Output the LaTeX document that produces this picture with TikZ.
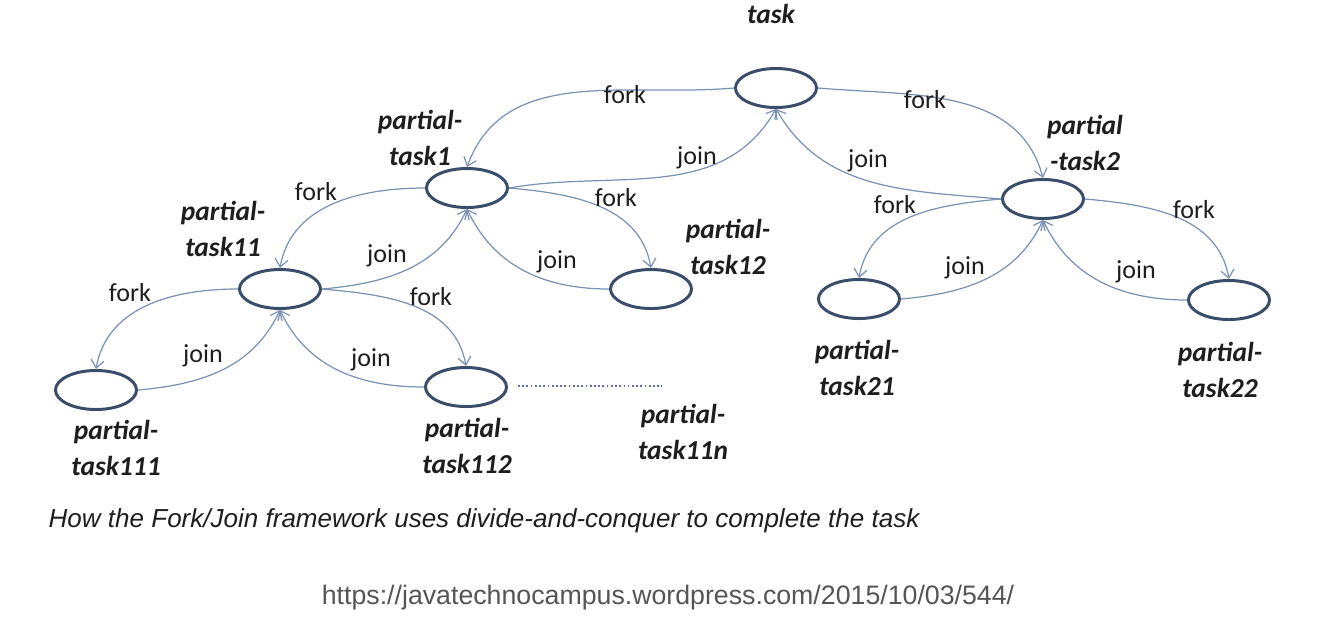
\documentclass[tikz,border=0pt]{standalone}
\usepackage{fontspec}
\setmainfont{Carlito}
\newfontfamily\capfont{Liberation Sans}
\usetikzlibrary{arrows.meta,shapes.geometric}
\definecolor{ringcol}{RGB}{58,78,108}
\definecolor{linkcol}{RGB}{122,146,182}
\definecolor{dotcol}{RGB}{92,112,170}
\definecolor{txtcol}{RGB}{30,30,30}
\definecolor{urlcol}{RGB}{85,85,85}

\begin{document}
\begin{tikzpicture}[x=0.01cm,y=0.01cm,
  ring/.style={ellipse,draw=ringcol,line width=0.85pt,minimum width=0.81cm,minimum height=0.39cm,inner sep=0pt},
  lnk/.style={draw=linkcol,line width=0.35pt,-{Straight Barb[length=0.8mm,width=1.3mm]}},
  tag/.style={font=\fontsize{7.8}{10}\selectfont\bfseries\itshape,text=txtcol,align=center,inner sep=0pt},
  say/.style={font=\fontsize{7.4}{9}\selectfont,text=txtcol,inner sep=0pt,anchor=base}]
  \useasboundingbox (0,0) rectangle (1342,638);
  % tasks
  \node[ring] (task)  at (776,550) {};
  \node[ring] (pt1)   at (467,450) {};
  \node[ring] (pt2)   at (1043,439) {};
  \node[ring] (pt11)  at (280,349) {};
  \node[ring] (pt12)  at (651,349) {};
  \node[ring] (pt21)  at (859,339) {};
  \node[ring] (pt22)  at (1229,338) {};
  \node[ring] (pt111) at (96,248) {};
  \node[ring] (pt112) at (466,251) {};
  % task names
  \node[tag] (tasktag)  at (771,624) {task};
  \node[tag] (pt1tag)   at (420,500) {partial-\\task1};
  \node[tag] (pt2tag)   at (1085,495) {partial\\-task2};
  \node[tag] (pt11tag)  at (223,409) {partial-\\task11};
  \node[tag] (pt12tag)  at (728,391) {partial-\\task12};
  \node[tag] (pt21tag)  at (857,270) {partial-\\task21};
  \node[tag] (pt22tag)  at (1220,268) {partial-\\task22};
  \node[tag] (pt111tag) at (116,190) {partial-\\task111};
  \node[tag] (pt112tag) at (467,192) {partial-\\task112};
  \node[tag] (pt11ntag) at (683,206) {partial-\\task11n};
  % fork and join
  \draw[lnk] (task.west) to[out=185,in=70] (pt1.north);
  \draw[lnk] (pt1.east) to[out=10,in=240] (task.south);
  \draw[lnk] (task.east) to[out=-5,in=105] (pt2.north);
  \draw[lnk] (pt2.west) to[out=175,in=300] (task.south);
  \draw[lnk] (pt1.west) to[out=180,in=80] (pt11.north);
  \draw[lnk] (pt11.east) to[out=5,in=245] (pt1.south);
  \draw[lnk] (pt1.east) to[out=-5,in=100] (pt12.north);
  \draw[lnk] (pt12.west) to[out=180,in=295] (pt1.south);
  \draw[lnk] (pt2.west) to[out=185,in=80] (pt21.north);
  \draw[lnk] (pt21.east) to[out=5,in=245] (pt2.south);
  \draw[lnk] (pt2.east) to[out=-5,in=100] (pt22.north);
  \draw[lnk] (pt22.west) to[out=180,in=295] (pt2.south);
  \draw[lnk] (pt11.west) to[out=180,in=80] (pt111.north);
  \draw[lnk] (pt111.east) to[out=5,in=245] (pt11.south);
  \draw[lnk] (pt11.east) to[out=-5,in=100] (pt112.north);
  \draw[lnk] (pt112.west) to[out=180,in=295] (pt11.south);
  % labels
  \node[say] (fk1)  at (625,535) {fork};
  \node[say] (jn1)  at (697,474) {join};
  \node[say] (fk2)  at (925,530) {fork};
  \node[say] (jn2)  at (868,471) {join};
  \node[say] (fk11) at (316,438) {fork};
  \node[say] (jn11) at (387,376) {join};
  \node[say] (fk12) at (616,432) {fork};
  \node[say] (jn12) at (557,370) {join};
  \node[say] (fk21) at (895,425) {fork};
  \node[say] (jn21) at (965,364) {join};
  \node[say] (fk22) at (1194,420) {fork};
  \node[say] (jn22) at (1136,360) {join};
  \node[say] (fk111) at (130,337) {fork};
  \node[say] (jn111) at (203,276) {join};
  \node[say] (fk112) at (431,333) {fork};
  \node[say] (jn112) at (371,272) {join};
  % more subtasks
  \coordinate (dotsa) at (518,252);
  \coordinate (dotsb) at (662,252);
  \draw[dotcol,line width=0.6pt,dash pattern=on 0.5pt off 0.7pt] (dotsa) -- (dotsb);
  % caption
  \node[anchor=base west,inner sep=0pt,text=txtcol,font=\capfont\itshape\fontsize{7.4}{9}\selectfont] (cap) at (48,111)
    {How the Fork/Join framework uses divide-and-conquer to complete the task};
  \node[anchor=base,inner sep=0pt,text=urlcol,font=\capfont\fontsize{7.6}{9}\selectfont] (url) at (668,34)
    {https://javatechnocampus.wordpress.com/2015/10/03/544/};
\end{tikzpicture}
\end{document}
